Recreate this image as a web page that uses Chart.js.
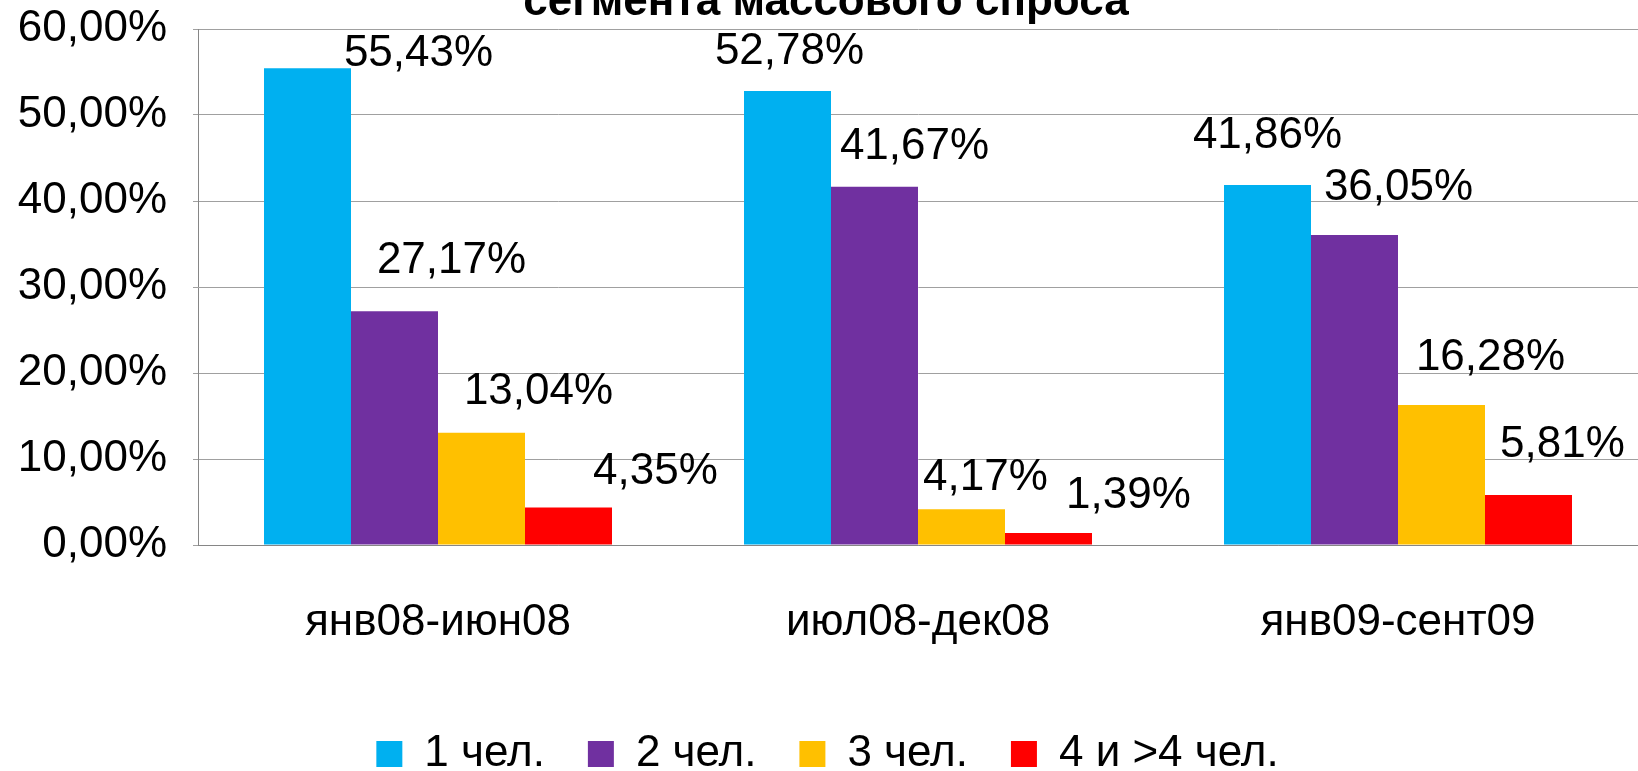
<!DOCTYPE html>
<html>
<head>
<meta charset="utf-8">
<script src="https://cdn.jsdelivr.net/npm/chart.js@4.4.1/dist/chart.umd.min.js"></script>
<style>
  html, body { margin: 0; padding: 0; background: #fff; overflow: hidden; }
  #wrap { width: 1638px; height: 771px; }
</style>
</head>
<body>
<div id="wrap"><canvas id="myChart"></canvas></div>
<script>
    const categories = ['янв08-июн08', 'июл08-дек08', 'янв09-сент09'];
    const seriesNames = ['1 чел.', '2 чел.', '3 чел.', '4 и >4 чел.'];
    const oneMember = [55.43, 52.78, 41.86];
    const twoMembers = [27.17, 41.67, 36.05];
    const threeMembers = [13.04, 4.17, 16.28];
    const fourPlus = [4.35, 1.39, 5.81];
    const yTicks = [0, 10, 20, 30, 40, 50, 60];
    const titleText = 'сегмента массового спроса';

    const FONT = '"Liberation Sans", Arial, sans-serif';

    // labels were moved by hand in the original, so each one gets its own nudge [dx, dy]
    const labelNudge = [
        [[111, -14], [2, -39], [0, -49]],
        [[57, -50], [40, -40], [44, -47]],
        [[57, -41], [24, -31], [49, -47]],
        [[87, -36], [80, -37], [34, -50]]
    ];

    const fmt = v => v.toFixed(2).replace('.', ',') + '%';

    // title sits half outside the picture, as in the original
    const topTitle = {
        id: 'topTitle',
        afterDraw(chart) {
            const ctx = chart.ctx;
            ctx.save();
            ctx.font = 'bold 44px ' + FONT;
            ctx.fillStyle = '#000';
            ctx.textAlign = 'center';
            ctx.textBaseline = 'alphabetic';
            ctx.fillText(titleText, 826, 15);
            ctx.restore();
        }
    };

    const valueLabels = {
        id: 'valueLabels',
        afterDatasetsDraw(chart) {
            const ctx = chart.ctx;
            ctx.save();
            ctx.font = '44px ' + FONT;
            ctx.fillStyle = '#000';
            ctx.textAlign = 'center';
            ctx.textBaseline = 'middle';
            chart.data.datasets.forEach((ds, i) => {
                chart.getDatasetMeta(i).data.forEach((bar, j) => {
                    const n = labelNudge[i][j];
                    ctx.fillText(fmt(ds.data[j]), bar.x + n[0], bar.y + n[1]);
                });
            });
            ctx.restore();
        }
    };

    const data = {
        labels: categories,
        datasets: [
            { label: seriesNames[0], data: oneMember, backgroundColor: '#00B0F0' },
            { label: seriesNames[1], data: twoMembers, backgroundColor: '#7030A0' },
            { label: seriesNames[2], data: threeMembers, backgroundColor: '#FFC000' },
            { label: seriesNames[3], data: fourPlus, backgroundColor: '#FF0000' }
        ]
    };

    const config = {
        type: 'bar',
        data: data,
        options: {
            responsive: true,
            maintainAspectRatio: false,
            animation: false,
            datasets: {
                bar: { categoryPercentage: 0.725, barPercentage: 1.0 }
            },
            layout: { padding: { left: 17, top: 29, right: 0, bottom: -15 } },
            scales: {
                x: {
                    grid: { display: false, drawTicks: false },
                    border: { color: '#868686', width: 1 },
                    ticks: { color: '#000', font: { family: FONT, size: 44 }, padding: 51, maxRotation: 0 },
                    afterFit: s => { s.height = 144; }
                },
                y: {
                    min: 0,
                    max: 60,
                    afterBuildTicks: s => { s.ticks = yTicks.map(v => ({ value: v })); },
                    afterFit: s => { s.width = 181; s.paddingTop = 0; },
                    grid: { color: '#a0a0a0', tickLength: 5 },
                    border: { color: '#868686', width: 1 },
                    ticks: { color: '#000', font: { family: FONT, size: 44 }, padding: 26, callback: v => fmt(v) }
                }
            },
            plugins: {
                legend: {
                    position: 'bottom',
                    labels: {
                        boxWidth: 26,
                        boxHeight: 26,
                        padding: 43,
                        color: '#000',
                        font: { family: FONT, size: 44 }
                    }
                },
                tooltip: { enabled: false }
            }
        },
        plugins: [topTitle, valueLabels]
    };

    const myChart = new Chart(document.getElementById('myChart'), config);
</script>
</body>
</html>
